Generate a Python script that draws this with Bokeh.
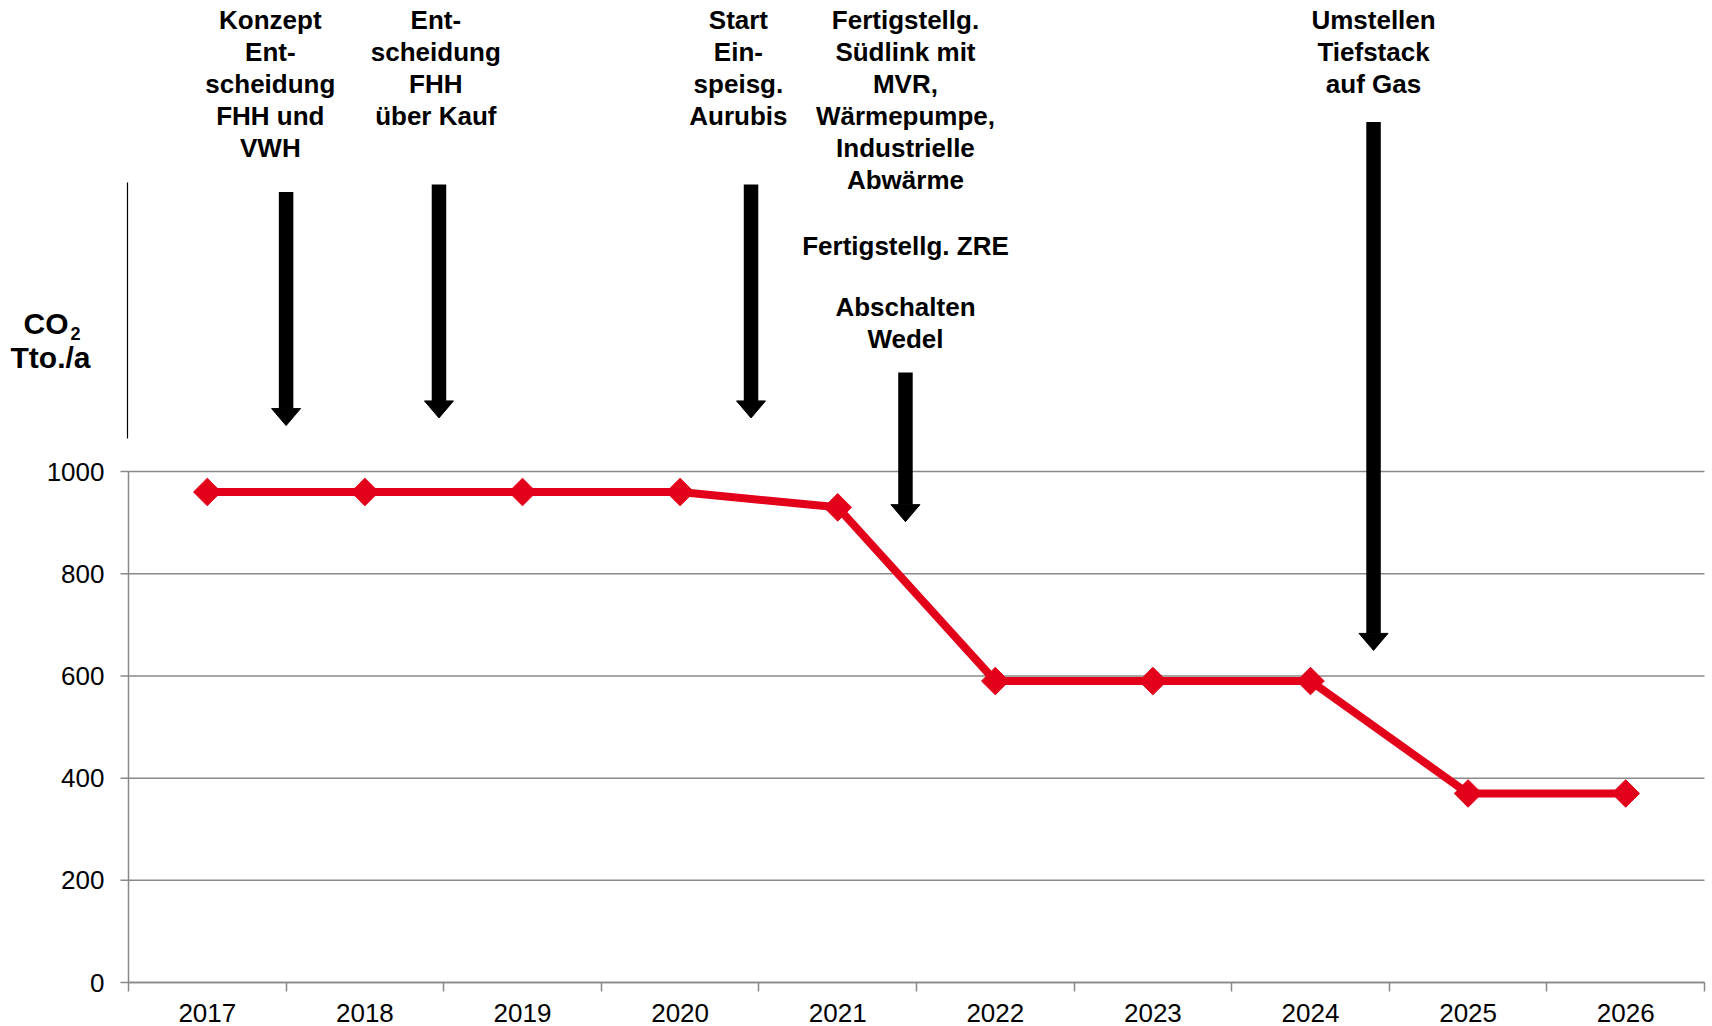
import numpy as np
from bokeh.plotting import figure
from bokeh.models import Range1d, FixedTicker, ColumnDataSource
from bokeh.core.properties import value
from bokeh.embed import file_html
from bokeh.resources import INLINE

# ---- data ----
years = ["2017", "2018", "2019", "2020", "2021", "2022", "2023", "2024", "2025", "2026"]
co2 = [960, 960, 960, 960, 930, 590, 590, 590, 370, 370]
y_ticks = [0, 200, 400, 600, 800, 1000]
y_tick_labels = ["0", "200", "400", "600", "800", "1000"]

event_texts = [
    "Konzept\nEnt-\nscheidung\nFHH und\nVWH",
    "Ent-\nscheidung\nFHH\nüber Kauf",
    "Start\nEin-\nspeisg.\nAurubis",
    "Fertigstellg.\nSüdlink mit\nMVR,\nWärmepumpe,\nIndustrielle\nAbwärme",
    "Umstellen\nTiefstack\nauf Gas",
]
event_text_x = [0.90, 1.95, 3.87, 4.93, 7.90]
event_text_top = [1914, 1914, 1914, 1914, 1914]
event_arrow_x = [1.00, 1.97, 3.95, 4.93, 7.90]
event_arrow_top = [1547, 1562, 1562, 1194, 1684]
event_arrow_tip = [1090, 1105, 1105, 902, 650]

extra_texts = ["Fertigstellg. ZRE", "Abschalten\nWedel"]
extra_text_x = [4.93, 4.93]
extra_text_top = [1470, 1351]

unit_main = "CO"
unit_sub = "2"
unit_line2 = "Tto./a"

# ---- layout constants ----
W, H = 1712, 1026
BL, BR, BB = 128, 8, 44          # offsets of the value area from left/right/bottom, px
N = len(years)
YTOP = 1922
px_x = (W - BL - BR) / N         # px per category
px_y = (H - BB) / YTOP           # px per y unit
YBOT = -BB / px_y

GRID = "#898989"
RED = "#E2001A"
FONT = "Liberation Sans"


def xd(px):
    """screen x (px from left) -> data x"""
    return (px - BL) / px_x


def yd(py):
    """screen y (px from top) -> data y"""
    return YTOP - py / px_y


p = figure(width=W, height=H, x_range=Range1d(xd(0), xd(W)), y_range=Range1d(YBOT, YTOP),
           output_backend="svg", toolbar_location=None, y_axis_location=None,
           min_border_left=0, min_border_right=0, min_border_top=0, min_border_bottom=0)
p.outline_line_color = None
p.xgrid.visible = False
p.ygrid.visible = False

centers = [i + 0.5 for i in range(N)]
bounds = list(range(N + 1))

# horizontal grid lines
p.segment(x0=[0] * len(y_ticks), y0=y_ticks, x1=[N] * len(y_ticks), y1=y_ticks,
          line_color=GRID, line_width=1.5)

xa = p.xaxis[0]
xa.fixed_location = 0
xa.bounds = (0, N)
xa.ticker = FixedTicker(ticks=centers, minor_ticks=bounds)
xa.major_label_overrides = {c: y for c, y in zip(centers, years)}
xa.major_tick_line_color = None
xa.major_tick_out = 0
xa.major_tick_in = 0
xa.minor_tick_line_color = GRID
xa.minor_tick_line_width = 1.5
xa.minor_tick_out = 9
xa.minor_tick_in = 0
xa.axis_line_color = GRID
xa.axis_line_width = 1.5
xa.major_label_standoff = 12
xa.major_label_text_font = FONT
xa.major_label_text_font_size = "26px"
xa.major_label_text_color = "#000000"

# ---- vertical axis ----
tick_len = 8 / px_x
p.segment(x0=[0], y0=[0], x1=[0], y1=[max(y_ticks)], line_color=GRID, line_width=1.5)
p.segment(x0=[-tick_len] * len(y_ticks), y0=y_ticks, x1=[0] * len(y_ticks), y1=y_ticks,
          line_color=GRID, line_width=1.5)
p.text(x=[xd(104)] * len(y_ticks), y=y_ticks, text=y_tick_labels,
       text_font=value(FONT), text_font_size="26px", text_align="right",
       text_baseline="middle", text_color="#000000")
# upper (thin black) part of the vertical axis line
p.segment(x0=[xd(127)], y0=[yd(438)], x1=[xd(127)], y1=[yd(182)],
          line_color="#000000", line_width=1.2)

# ---- data line ----
src = ColumnDataSource(dict(x=centers, y=co2))
p.line("x", "y", source=src, line_color=RED, line_width=8)
p.scatter("x", "y", source=src, marker="square", angle=np.pi / 4, size=19.5,
          fill_color=RED, line_color=RED)

# ---- event arrows ----
shaft_w = 14.5
head_half_w = 14.5 / px_x
head_len = 17 / px_y
ax = np.array(event_arrow_x)
tip = np.array(event_arrow_tip)
base = tip + head_len
p.segment(x0=ax, y0=event_arrow_top, x1=ax, y1=base, line_color="black",
          line_width=shaft_w, line_cap="butt")
p.patches(xs=[[a - head_half_w, a + head_half_w, a] for a in ax],
          ys=[[b, b, t] for b, t in zip(base, tip)],
          fill_color="black", line_color="black", line_width=1)

# ---- event texts ----
p.text(x=event_text_x + extra_text_x, y=event_text_top + extra_text_top,
       text=event_texts + extra_texts,
       text_font=value(FONT), text_font_style="bold", text_font_size="26px",
       text_align="center", text_baseline="top", text_line_height=1.07,
       text_color="#000000")

# ---- unit label (CO2 Tto./a) ----
p.text(x=[xd(23)], y=[yd(323)], text=[unit_main], text_font=value(FONT),
       text_font_style="bold", text_font_size="30px", text_align="left",
       text_baseline="middle", text_color="#000000")
p.text(x=[xd(70)], y=[yd(333)], text=[unit_sub], text_font=value(FONT),
       text_font_style="bold", text_font_size="18px", text_align="left",
       text_baseline="middle", text_color="#000000")
p.text(x=[xd(50)], y=[yd(357)], text=[unit_line2], text_font=value(FONT),
       text_font_style="bold", text_font_size="30px", text_align="center",
       text_baseline="middle", text_color="#000000")

open("out.html", "w").write(file_html(p, INLINE))
